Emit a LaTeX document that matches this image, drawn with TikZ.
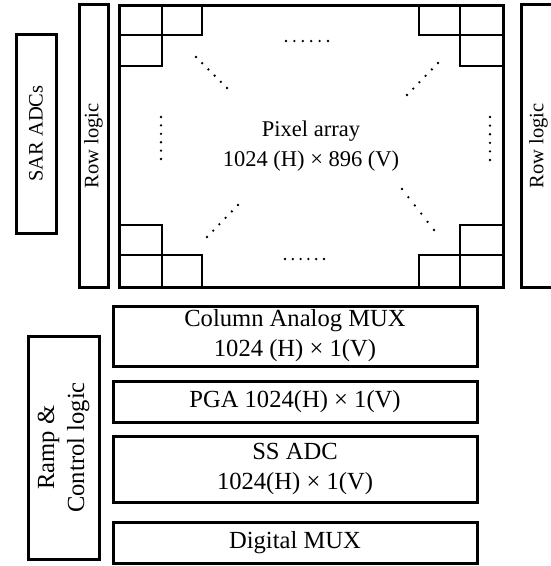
\documentclass[tikz,border=0pt]{standalone}
\usepackage{fontspec}
\setmainfont{Liberation Serif}
\usetikzlibrary{calc}
\tikzset{
  blk/.style={draw, line width=3pt, inner sep=0pt, align=center},
  vblk/.style={blk, rotate=90},
  cell/.style={line width=1.5pt},
}
\newcommand{\bigfont}{\fontsize{24.6}{30}\selectfont}
\newcommand{\midfont}{\fontsize{22.5}{30}\selectfont}
\newcommand{\smfont}{\fontsize{20.5}{24}\selectfont}

\begin{document}
\begin{tikzpicture}[x=1pt,y=-1pt]
  \useasboundingbox (0,0) rectangle (550,566);
  % upper part: array with row logic on both sides
  \node[vblk, minimum width=199pt, minimum height=40pt, font=\smfont] (sar) at (36,133.5) {SAR ADCs};
  \node[vblk, minimum width=283pt, minimum height=29pt, font=\smfont] (rowl) at (93.5,146) {Row logic};
  \node[vblk, minimum width=283pt, minimum height=35pt, font=\smfont] (rowr) at (538.5,146) {Row logic};
  \node[blk, minimum width=384pt, minimum height=282pt, font=\midfont] (pix) at (311,146) {Pixel array\\1024 (H) × 896 (V)};

  % corner pixels
  \foreach \x/\y/\w/\h in {119/5/43/30, 162/5/40/30, 119/35/43/31,
                            119/225/43/30, 119/255/43/32, 162/255/40/32,
                            419/5/41/30, 460/5/43/30, 460/35/43/31,
                            460/225/43/30, 419/255/41/32, 460/255/43/32}
    \draw[cell] (\x,\y) rectangle ++(\w,\h);

  % dots
  \foreach \ax/\ay/\bx/\by in {286/41/328/41, 285/259/324/259,
                                161/117/161/159, 490/117/490/160,
                                196/57/227/88, 438/63/407/95,
                                238/205/207/237, 402/189/434/230}
    \foreach \i in {0,...,5}
      \fill ($(\ax,\ay)!\i/5!(\bx,\by)$) circle (1.3pt);

  % lower part: column readout chain
  \node[blk, minimum width=364pt, minimum height=60pt, font=\bigfont] (colmux) at (295,336) {Column Analog MUX\\1024 (H) × 1(V)};
  \node[blk, minimum width=364pt, minimum height=41pt, font=\bigfont] (pga) at (295,401.5) {PGA 1024(H) × 1(V)};
  \node[blk, minimum width=364pt, minimum height=66pt, font=\bigfont] (ssadc) at (295,469) {SS ADC\\1024(H) × 1(V)};
  \node[blk, minimum width=364pt, minimum height=41pt, font=\bigfont] (digmux) at (295,542.5) {Digital MUX};
  \node[vblk, minimum width=223pt, minimum height=71pt, font=\bigfont] (ramp) at (63.5,447.5) {Ramp \&\\Control logic};
\end{tikzpicture}
\end{document}
